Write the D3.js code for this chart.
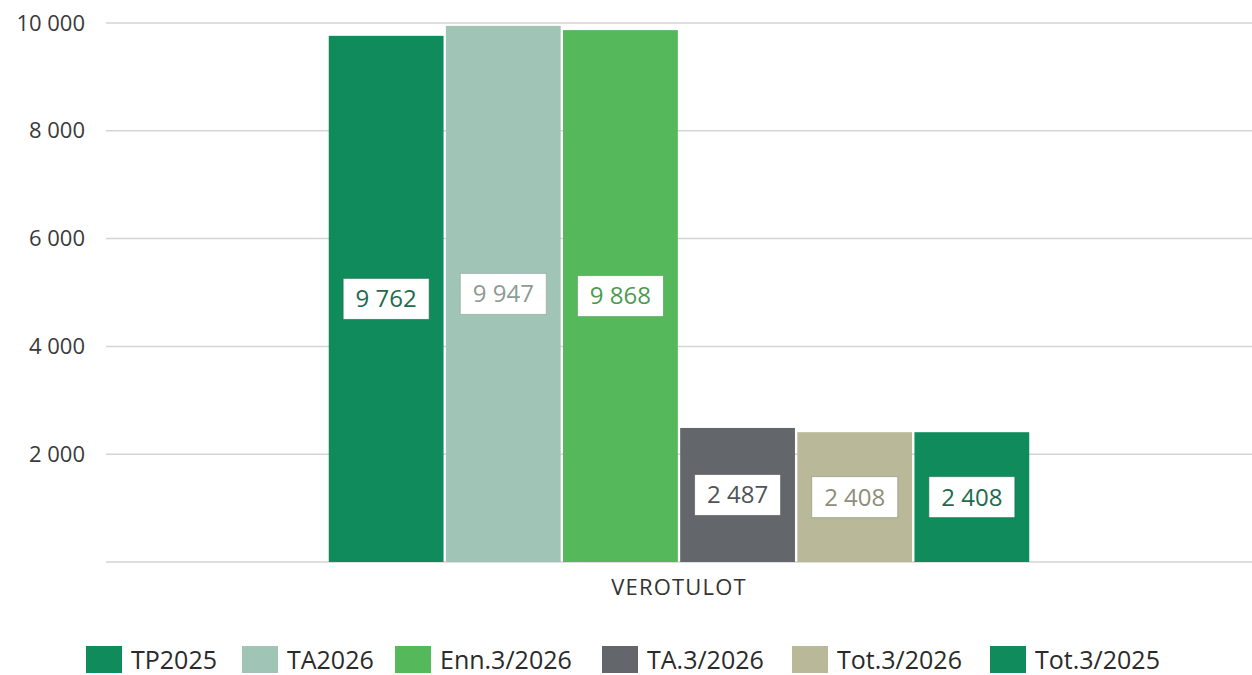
<!DOCTYPE html>
<html><head><meta charset="utf-8">
<script src="https://cdn.jsdelivr.net/npm/d3@7/dist/d3.min.js"></script>
<style>
html,body{margin:0;padding:0;background:#fff;}
text{font-family:"Open Sans","Noto Sans",sans-serif;}
</style></head>
<body>
<svg id="chart" width="1252" height="675"></svg>
<script>
const categories = ["VEROTULOT"];
const seriesNames = ["TP2025","TA2026","Enn.3/2026","TA.3/2026","Tot.3/2026","Tot.3/2025"];
const seriesValues = [9762, 9947, 9868, 2487, 2408, 2408];
const seriesColors = ["#108c5c","#a0c4b6","#55b85b","#63676b","#b9b899","#108c5c"];
const labelColors = ["#1d6b4d","#8c9c96","#4d9a52","#505458","#8e8e7c","#1d6b4d"];
const yTicks = [2000, 4000, 6000, 8000, 10000];

(function(){
const svg = d3.select("#chart");
const mLeft = 106, mRight = 1252, mTop = 23, mBottom = 562;
const fmt = v => d3.format(",")(v).replace(/,/g, "\u00a0");

const x0 = d3.scaleBand().domain(categories).range([mLeft, mRight]).paddingInner(0).paddingOuter(0.318);
const x1 = d3.scaleBand().domain(seriesNames).range([0, x0.bandwidth()]).paddingInner(0.02).paddingOuter(0);
const y = d3.scaleLinear().domain([0, 10000]).range([mBottom, mTop]);

svg.append("g").selectAll("line").data([0, ...yTicks]).join("line")
  .attr("x1", mLeft).attr("x2", mRight)
  .attr("y1", d => y(d)).attr("y2", d => y(d))
  .attr("stroke", "#d4d4d4").attr("stroke-width", 1.5);

const yAxis = d3.axisLeft(y).tickValues(yTicks).tickSize(0).tickPadding(0).tickFormat(fmt);
const ya = svg.append("g").attr("transform", `translate(${mLeft - 21},0)`).call(yAxis);
ya.select(".domain").remove();
ya.selectAll("text").attr("font-size", 22).attr("fill", "#3a3a3a").style("font-family", '"Open Sans","Noto Sans",sans-serif');

const data = seriesNames.map((s, i) => ({cat: categories[0], s, v: seriesValues[i], c: seriesColors[i], lc: labelColors[i]}));
const g = svg.append("g");
g.selectAll("rect.bar").data(data).join("rect").attr("class", "bar")
  .attr("x", d => x0(d.cat) + x1(d.s))
  .attr("width", x1.bandwidth())
  .attr("y", d => y(d.v))
  .attr("height", d => y(0) - y(d.v))
  .attr("fill", d => d.c);

const lw = 86, lh = 41;
const lab = g.selectAll("g.lab").data(data).join("g").attr("class", "lab")
  .attr("transform", d => `translate(${x0(d.cat) + x1(d.s) + x1.bandwidth() / 2},${(y(d.v) + y(0)) / 2})`);
lab.append("rect").attr("x", -lw / 2).attr("y", -lh / 2).attr("width", lw).attr("height", lh)
  .attr("fill", "#fff").attr("stroke", d => d.lc).attr("stroke-opacity", 0.6).attr("stroke-width", 1);
lab.append("text").attr("text-anchor", "middle").attr("dy", "0.35em")
  .attr("font-size", 24).attr("fill", d => d.lc).text(d => fmt(d.v));

const xAxis = d3.axisBottom(x0).tickSize(0).tickPadding(0);
const xa = svg.append("g").attr("transform", `translate(0,${mBottom + 17})`).call(xAxis);
xa.select(".domain").remove();
xa.selectAll("text").attr("font-size", 22).attr("letter-spacing", 1.2).attr("fill", "#333").attr("dy", "0.71em").style("font-family", '"Open Sans","Noto Sans",sans-serif');

const legendX = [86, 242, 395, 602, 792, 990];
const lg = svg.append("g").selectAll("g").data(seriesNames).join("g")
  .attr("transform", (d, i) => `translate(${legendX[i]},646)`);
lg.append("rect").attr("width", 36).attr("height", 27).attr("fill", (d, i) => seriesColors[i]);
lg.append("text").attr("x", 45).attr("y", 14).attr("dy", "0.35em")
  .attr("font-size", 25).attr("fill", "#2a2a2a").text(d => d);
})();
</script>
</body></html>
